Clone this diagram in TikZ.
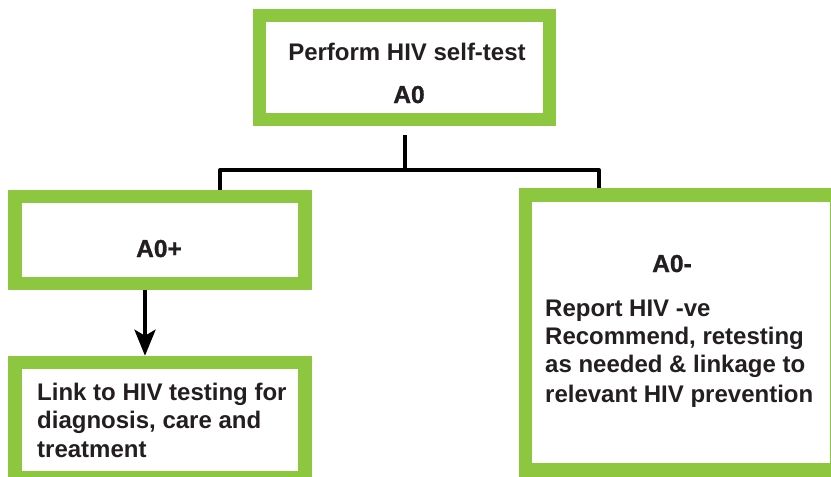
\documentclass[tikz,border=0pt]{standalone}
\usepackage{fontspec}
\setmainfont{Liberation Sans}
\newfontfamily\heavyfont{Liberation Sans Bold}[FakeBold=1.2]
\usetikzlibrary{arrows.meta}
\definecolor{boxgreen}{RGB}{141,198,63}
\definecolor{ink}{RGB}{35,31,32}
\begin{document}
\begin{tikzpicture}[x=1pt,y=-1pt,
  greenbox/.style={draw=boxgreen, line width=13.5pt, fill=white, inner sep=0pt, rectangle},
  conn/.style={draw=black, line width=4pt},
  txt/.style={inner sep=0pt, text=ink, font=\fontsize{24}{28.5}\selectfont\bfseries},
  code/.style={inner sep=0pt, text=ink, font=\fontsize{24.5}{30}\selectfont\heavyfont}]
\useasboundingbox (0,0) rectangle (831,477);
\clip (0,0) rectangle (831,477);

% boxes (sizes measured on the stroke centre line)
\node[greenbox, minimum width=290pt, minimum height=104pt] (top) at (404.5,67.5) {};
\node[greenbox, minimum width=290pt, minimum height=87pt] (pos) at (160,240) {};
\node[greenbox, minimum width=290pt, minimum height=115pt] (link) at (160,420) {};
\node[greenbox, minimum width=311pt, minimum height=275pt] (neg) at (681,332.5) {};

% connectors
\coordinate (jl) at (220,170);
\coordinate (jr) at (599,170);
\coordinate (jm) at (405,170);
\coordinate (ax) at (145,0);
\draw[conn, shorten <=9pt] (top.south -| jm) -- (jm);
\draw[conn, line join=round] (jl |- pos.north) -- (jl) -- (jr) -- (jr |- neg.north);
\draw[conn, -{Stealth[length=26pt, width=21pt, inset=6pt]}] (pos.south -| ax) -- (link.north -| ax);

% texts
\node[txt, anchor=base] (t1) at (407,60) {Perform HIV self-test};
\node[code, anchor=base] (t2) at (409,103) {A0};
\node[code, anchor=base] (p1) at (159,257) {A0+};
\node[txt, anchor=base west] (l1) at (37,400) {Link to HIV testing for};
\node[txt, anchor=base west] (l2) at (37,428) {diagnosis, care and};
\node[txt, anchor=base west] (l3) at (37,457) {treatment};
\node[code, anchor=base] (n0) at (672,272) {A0-};
\node[txt, anchor=base west] (n1) at (545,316) {Report HIV -ve};
\node[txt, anchor=base west] (n2) at (545,344) {Recommend, retesting};
\node[txt, anchor=base west] (n3) at (545,372) {as needed \& linkage to};
\node[txt, anchor=base west] (n4) at (545,402) {relevant HIV prevention};
\end{tikzpicture}
\end{document}
